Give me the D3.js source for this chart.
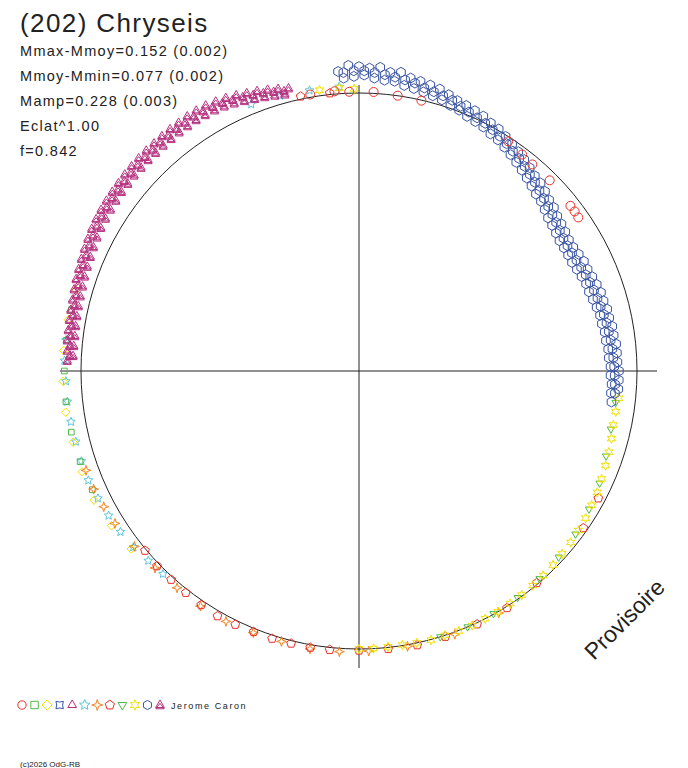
<!DOCTYPE html>
<html><head><meta charset="utf-8">
<script src="https://cdn.jsdelivr.net/npm/d3@7"></script>
<style>body{margin:0;background:#fff}svg{display:block}text{font-family:"Liberation Sans",Arial,sans-serif}</style>
</head><body><svg id="c" width="688" height="768"></svg>
<script>
// phase angle (deg, clockwise from top) and radius relative to reference circle
const blueOut=[[-4,1.08],[-2,1.10],[0,1.095],[2,1.09],[4,1.095],[6,1.08],[8,1.085],[10,1.07],[12,1.065],[14,1.06],[16,1.055],[18,1.045],[20,1.035],[22,1.03],[24,1.025],[26,1.02],[28,1.01],[30,1.005],[32,0.995],[34,0.985],[36,0.975],[38,0.965],[40,0.955],[42,0.945],[44,0.94],[46,0.93],[48,0.92],[50,0.915],[52,0.905],[54,0.90],[56,0.895],[58,0.89],[60,0.89],[62,0.895],[64,0.90],[66,0.90],[68,0.905],[70,0.91],[72,0.915],[74,0.915],[76,0.92],[78,0.92],[80,0.925],[82,0.925],[84,0.93],[86,0.93],[88,0.93],[90,0.935],[92,0.935],[94,0.935]];
const blueMid=[[-3,1.075],[-1,1.08],[1,1.08],[3,1.075],[5,1.07],[7,1.065],[9,1.06],[11,1.055],[13,1.045],[15,1.04],[17,1.035],[19,1.03],[21,1.02],[23,1.012],[25,1.005],[27,1.0],[29,0.992],[31,0.985],[33,0.975],[35,0.965],[37,0.957],[39,0.947],[41,0.937],[43,0.928],[45,0.918],[47,0.91],[49,0.902],[51,0.895],[53,0.888],[55,0.882],[57,0.877],[59,0.875],[61,0.876],[63,0.878],[65,0.882],[67,0.886],[69,0.89],[71,0.894],[73,0.897],[75,0.9],[77,0.904],[79,0.907],[81,0.91],[83,0.912],[85,0.915],[87,0.916],[89,0.918],[91,0.92],[93,0.922],[95,0.924]];
const blueIn=[[-3,1.055],[-1,1.06],[1,1.065],[3,1.055],[5,1.05],[7,1.05],[9,1.04],[11,1.035],[13,1.03],[15,1.025],[17,1.02],[19,1.01],[21,1.005],[23,0.995],[25,0.99],[27,0.985],[29,0.975],[31,0.97],[33,0.96],[35,0.95],[37,0.94],[39,0.93],[41,0.92],[43,0.91],[45,0.90],[47,0.895],[49,0.885],[51,0.875],[53,0.87],[55,0.865],[57,0.86],[59,0.86],[61,0.86],[63,0.86],[65,0.865],[67,0.87],[69,0.875],[71,0.875],[73,0.88],[75,0.885],[77,0.89],[79,0.89],[81,0.895],[83,0.895],[85,0.90],[87,0.90],[89,0.905],[91,0.905],[93,0.91],[95,0.91],[97,0.915]];
const magOut=[[272,1.05],[274,1.052],[276,1.055],[278,1.056],[280,1.058],[282,1.06],[284,1.062],[286,1.066],[288,1.07],[290,1.073],[292,1.077],[294,1.081],[296,1.085],[298,1.089],[300,1.092],[302,1.094],[304,1.096],[306,1.097],[308,1.098],[310,1.1],[312,1.101],[314,1.102],[316,1.102],[318,1.102],[320,1.103],[322,1.104],[324,1.104],[326,1.105],[328,1.105],[330,1.103],[332,1.098],[334,1.093],[336,1.086],[338,1.078],[340,1.072],[342,1.064],[344,1.056],[346,1.048]];
const magMid=[[273,1.042],[275,1.043],[277,1.045],[279,1.046],[281,1.048],[283,1.05],[285,1.053],[287,1.056],[289,1.06],[291,1.063],[293,1.066],[295,1.07],[297,1.074],[299,1.078],[301,1.08],[303,1.082],[305,1.084],[307,1.085],[309,1.086],[311,1.087],[313,1.088],[315,1.089],[317,1.089],[319,1.09],[321,1.09],[323,1.091],[325,1.091],[327,1.092],[329,1.09],[331,1.086],[333,1.082],[335,1.076],[337,1.07],[339,1.063],[341,1.057],[343,1.05],[345,1.042]];
const magIn=[[273,1.03],[275,1.03],[277,1.03],[279,1.032],[281,1.034],[283,1.036],[285,1.038],[287,1.04],[289,1.044],[291,1.047],[293,1.05],[295,1.054],[297,1.058],[299,1.062],[301,1.064],[303,1.066],[305,1.068],[307,1.07],[309,1.07],[311,1.072],[313,1.072],[315,1.073],[317,1.073],[319,1.074],[321,1.074],[323,1.075],[325,1.075],[327,1.076],[329,1.074],[331,1.072],[333,1.068],[335,1.062],[337,1.055],[339,1.048],[341,1.042],[343,1.036],[345,1.03]];
const yellowStar=[[96,0.94],[99,0.935],[102,0.935],[105,0.94],[108,0.945],[111,0.95],[114,0.955],[117,0.962],[120,0.966],[123,0.972],[126,0.976],[129,0.98],[132,0.983],[135,0.987],[138,0.99],[141,0.993],[144,0.996],[147,0.998],[150,1.0],[153,1.0],[156,1.002],[159,1.002],[162,1.0],[165,1.002],[168,1.0],[171,0.998],[174,0.998],[177,1.0],[180,1.0],[352,1.02],[356,1.02],[359,1.015]];
const greenTri=[[97,0.93],[103,0.93],[109,0.94],[115,0.955],[121,0.965],[127,0.975],[133,0.982],[139,0.99],[145,0.995],[151,0.998],[157,1.0],[163,1.0]];
const redPent=[[118,0.975],[125,0.985],[140,0.995],[148,1.005],[155,1.005],[162,1.005],[168,1.008],[174,1.005],[180,1.005],[186,1.008],[190,1.01],[194,1.01],[198,1.012],[202,1.012],[206,1.015],[210,1.018],[214,1.015],[218,1.012],[222,1.01],[226,1.01],[230,1.005],[348,1.01],[354,1.005]];
const orangeStar=[[150,1.005],[160,1.008],[170,1.006],[178,1.008],[184,1.012],[190,1.015],[196,1.012],[202,1.015],[208,1.02],[214,1.02],[220,1.018],[226,1.02],[232,1.025],[238,1.035],[242,1.04],[246,1.045],[250,1.045]];
const cyanStar=[[224,1.015],[228,1.02],[232,1.03],[236,1.035],[240,1.04],[244,1.045],[248,1.05],[252,1.05],[256,1.05],[260,1.052],[264,1.055],[268,1.055],[272,1.06],[276,1.06],[338,1.035],[344,1.03],[350,1.025],[356,1.025]];
const yellowDia=[[232,1.04],[238,1.05],[244,1.06],[250,1.06],[256,1.06],[262,1.065],[268,1.065],[274,1.065],[280,1.062],[286,1.06]];
const greenSq=[[246,1.05],[252,1.055],[258,1.058],[264,1.06],[270,1.06],[276,1.058],[282,1.058]];
const redCirc=[[33,0.985],[37,0.975],[40,0.97],[45,0.97],[52,0.965],[53.5,0.965],[55,0.963],[350,1.01],[355,1.01],[358,1.005],[3,1.005],[8,1.0],[13,0.998]];
const legendShapes=["circle","square","diamond","quad","triangle","star5","star4","pentagon","tridown","star6","hexagon","hourglass"];
const legendColors=["#e8302a","#50b848","#f0e000","#3a55a4","#b5307f","#5bc5dc","#f58220","#e8302a","#50b848","#f0e000","#3a55a4","#b5307f"];
const statLines=["Mmax-Mmoy=0.152 (0.002)","Mmoy-Mmin=0.077 (0.002)","Mamp=0.228 (0.003)","Eclat^1.00","f=0.842"];

const svg=d3.select("#c");
const cx=359,cy=371,R=278;
const rs=d3.scaleLinear().domain([0,1]).range([0,R]);
const as=d3.scaleLinear().domain([0,360]).range([0,2*Math.PI]);
const px=d=>cx+rs(d[1])*Math.sin(as(d[0])), py=d=>cy-rs(d[1])*Math.cos(as(d[0]));

function poly(n,r,rot,r2){const p=[];const m=r2?2*n:n;for(let i=0;i<m;i++){const a=rot+i*2*Math.PI/m;const rr=(r2&&i%2)?r2:r;p.push([rr*Math.sin(a),-rr*Math.cos(a)]);}return "M"+p.map(q=>q[0].toFixed(2)+","+q[1].toFixed(2)).join("L")+"Z";}
function shape(n,s){
 switch(n){
  case "circle":return d3.symbol(d3.symbolCircle,Math.PI*s*s)();
  case "square":return poly(4,s*1.25,Math.PI/4);
  case "diamond":return poly(4,s*1.2,0);
  case "quad":return poly(4,s*1.25,Math.PI/4,s*0.7);
  case "triangle":return poly(3,s*1.2,0);
  case "tridown":return poly(3,s*1.2,Math.PI);
  case "star5":return poly(5,s*1.3,0,s*0.6);
  case "star4":return poly(4,s*1.3,0,s*0.45);
  case "star6":return poly(6,s*1.25,0,s*0.6);
  case "pentagon":return poly(5,s*1.15,0);
  case "hexagon":return poly(6,s*1.1,0);
  case "hourglass":return poly(3,s*1.2,0)+"M"+(-s)+","+(s*0.9)+"L"+s+","+(s*0.9)+"L0,"+(-s*0.4)+"Z";
 }
}
svg.append("line").attr("x1",60).attr("x2",657).attr("y1",cy).attr("y2",cy).attr("stroke","#222");
svg.append("line").attr("x1",cx).attr("x2",cx).attr("y1",85).attr("y2",668).attr("stroke","#222");
svg.append("circle").attr("cx",cx).attr("cy",cy).attr("r",rs(1)).attr("fill","none").attr("stroke","#222");

function plot(data,sh,col,s){
 svg.append("g").selectAll("path").data(data).join("path")
  .attr("transform",d=>`translate(${px(d)},${py(d)})`).attr("d",shape(sh,s))
  .attr("fill","none").attr("stroke",col).attr("stroke-width",1);
}
plot(cyanStar,"star5","#5bc5dc",3.5);
plot(yellowDia,"diamond","#f0e000",3.5);
plot(greenSq,"square","#50b848",3.2);
plot(orangeStar,"star4","#f58220",3.8);
plot(redPent,"pentagon","#e8302a",4);
plot(greenTri,"tridown","#50b848",3.5);
plot(yellowStar,"star6","#f0e000",3.8);
plot(magOut,"hourglass","#b5307f",4);
plot(magMid,"hourglass","#b5307f",4);
plot(magIn,"hourglass","#b5307f",4);
plot(blueOut,"hexagon","#3a55a4",4.5);
plot(blueMid,"hexagon","#3a55a4",4.5);
plot(blueIn,"hexagon","#3a55a4",4.5);
plot(redCirc,"circle","#e8302a",4.5);

svg.append("text").attr("x",20).attr("y",32).attr("font-size",26).attr("letter-spacing",1.4).attr("fill","#222").text("(202) Chryseis");
svg.append("g").selectAll("text").data(statLines).join("text").attr("x",20).attr("y",(d,i)=>56+i*25)
 .attr("font-size",14.5).attr("letter-spacing",1.3).attr("fill","#222").text(d=>d);
svg.append("text").attr("transform","translate(594,661) rotate(-45)").attr("font-size",23).attr("fill","#222").text("Provisoire");
const lx=d3.scalePoint().domain(legendShapes).range([22,160]);
svg.append("g").selectAll("path").data(legendShapes).join("path")
 .attr("transform",d=>`translate(${lx(d)},705)`).attr("d",d=>shape(d,4.2))
 .attr("fill","none").attr("stroke",(d,i)=>legendColors[i]).attr("stroke-width",1);
svg.append("text").attr("x",171).attr("y",709).attr("font-size",9).attr("letter-spacing",1.6).attr("fill","#222").text("Jerome Caron");
svg.append("text").attr("x",20).attr("y",767).attr("font-size",8).attr("fill","#222").text("(c)2026 OdG-RB");
</script></body></html>
